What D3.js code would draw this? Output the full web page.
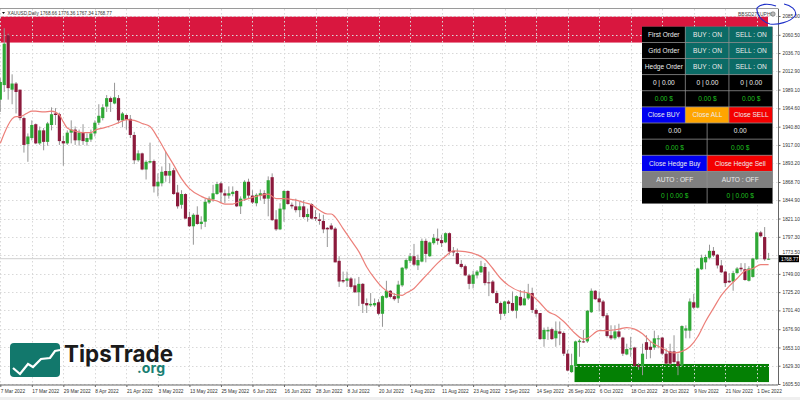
<!DOCTYPE html>
<html lang="en">
<head>
<meta charset="UTF-8">
<title>XAUUSD Daily</title>
<style>
  body, html { margin: 0; padding: 0; background: #fff; overflow: hidden; }
  svg { display: block; font-family: "Liberation Sans", Arial, sans-serif; }
</style>
</head>
<body>
<svg id="svg" width="800" height="400"></svg>
<script src="https://d3js.org/d3.v7.min.js"></script>
<script>
// candles (one entry per daily bar)
const opens = [
  1976,1995,2060,1989,1997,1989,1952,1918,1926,1944,1919,1936,1921,1943,1958,1957,1922,1919,1933,1937,
  1923,1933,1921,1924,1932,1946,1952,1967,1978,1971,1978,1949,1956,1951,1930,1897,1906,1885,1894,1896,
  1863,1867,1883,1877,1884,1855,1839,1853,1823,1811,1826,1814,1817,1842,1846,1853,1867,1854,1851,1853,
  1857,1837,1847,1869,1851,1841,1851,1854,1847,1875,1820,1807,1833,1857,1839,1837,1832,1837,1823,1840,
  1823,1820,1818,1809,1812,1808,1766,1741,1740,1743,1734,1725,1736,1711,1708,1708,1712,1697,1718,1727,
  1720,1717,1734,1756,1766,1772,1760,1765,1792,1772,1789,1795,1793,1790,1802,1779,1776,1762,1759,1747,
  1736,1747,1751,1758,1738,1739,1724,1711,1697,1713,1711,1701,1719,1708,1717,1724,1702,1698,1664,1674,
  1677,1665,1674,1672,1645,1621,1629,1660,1661,1661,1699,1727,1717,1713,1695,1669,1665,1674,1666,1644,
  1651,1653,1630,1629,1660,1654,1653,1664,1666,1645,1648,1648,1635,1630,1675,1675,1712,1705,1755,1764,
  1770,1779,1774,1760,1752,1740,1739,1750,1757,1755,1740,1745,1768,1803,1797,1768.66
];
const highs = [
  2004,2069,2062,2009,1999,1989,1954,1932,1949,1945,1941,1939,1947,1966,1965,1959,1929,1936,1949,1941,
  1937,1944,1932,1937,1949,1970,1970,1982,1980,1998,1982,1960,1957,1956,1934,1910,1907,1897,1920,1898,
  1880,1889,1908,1893,1887,1865,1858,1854,1830,1828,1837,1824,1847,1850,1865,1869,1869,1859,1863,1863,
  1858,1850,1871,1873,1858,1854,1859,1858,1876,1880,1832,1841,1858,1858,1842,1847,1843,1845,1834,1841,
  1832,1828,1826,1810,1815,1810,1772,1752,1752,1745,1743,1745,1737,1717,1724,1717,1716,1721,1740,1728,
  1724,1740,1758,1769,1776,1788,1774,1795,1795,1791,1801,1808,1800,1803,1803,1784,1782,1767,1761,1749,
  1753,1754,1766,1763,1752,1741,1727,1713,1714,1715,1726,1721,1728,1728,1736,1731,1704,1698,1679,1680,
  1679,1687,1687,1674,1650,1645,1662,1664,1676,1702,1730,1728,1726,1715,1698,1682,1682,1684,1667,1658,
  1667,1654,1633,1658,1669,1661,1675,1669,1667,1652,1658,1669,1645,1682,1682,1717,1723,1757,1774,1774,
  1787,1784,1775,1767,1753,1750,1753,1758,1763,1763,1759,1770,1804,1805,1810,1776.36
];
const lows = [
  1960,1986,1976,1970,1958,1949,1907,1895,1923,1918,1917,1910,1916,1936,1943,1917,1890,1917,1919,1917,
  1916,1917,1916,1921,1928,1943,1949,1960,1960,1970,1945,1940,1937,1926,1892,1895,1884,1872,1893,1855,
  1850,1863,1869,1867,1852,1834,1834,1821,1810,1787,1813,1807,1810,1840,1843,1852,1841,1841,1847,1850,
  1836,1827,1844,1847,1840,1837,1845,1840,1824,1818,1805,1806,1817,1839,1834,1829,1823,1821,1817,1820,
  1818,1813,1802,1784,1806,1764,1732,1737,1732,1730,1724,1707,1698,1698,1706,1706,1695,1680,1717,1717,
  1714,1711,1732,1754,1763,1759,1754,1764,1764,1771,1787,1787,1784,1789,1774,1772,1761,1756,1746,1729,
  1730,1743,1750,1734,1720,1723,1710,1689,1694,1698,1700,1691,1707,1708,1715,1698,1693,1663,1654,1663,
  1663,1654,1656,1642,1622,1620,1628,1641,1659,1659,1698,1715,1700,1692,1666,1663,1663,1665,1642,1643,
  1641,1628,1624,1617,1638,1639,1650,1652,1643,1631,1630,1632,1617,1629,1665,1665,1703,1704,1754,1755,
  1768,1771,1756,1750,1732,1737,1727,1749,1752,1740,1739,1744,1767,1797,1766,1767.34
];
const closes = [
  1999,2049,1991,1997,1986,1952,1917,1928,1943,1919,1936,1921,1945,1957,1956,1922,1919,1933,1937,1923,
  1933,1922,1926,1932,1946,1955,1966,1978,1973,1979,1949,1958,1950,1930,1897,1906,1885,1895,1896,1863,
  1869,1882,1877,1883,1853,1837,1853,1821,1811,1826,1814,1817,1843,1847,1854,1866,1855,1851,1854,1856,
  1837,1847,1869,1851,1842,1852,1854,1847,1871,1819,1807,1834,1857,1840,1837,1832,1837,1823,1827,1821,
  1821,1818,1807,1807,1807,1764,1739,1739,1743,1732,1725,1736,1710,1708,1710,1711,1697,1720,1727,1719,
  1716,1735,1757,1767,1772,1761,1767,1792,1775,1790,1796,1792,1789,1802,1778,1777,1762,1758,1747,1736,
  1748,1752,1759,1737,1737,1724,1711,1697,1713,1710,1701,1720,1708,1717,1724,1702,1697,1664,1676,1676,
  1664,1675,1671,1645,1623,1630,1661,1662,1660,1701,1727,1716,1712,1694,1668,1665,1674,1667,1645,1651,
  1652,1629,1628,1645,1650,1650,1665,1665,1645,1632,1632,1634,1629,1681,1678,1713,1705,1756,1770,1771,
  1779,1773,1760,1751,1737,1738,1750,1756,1755,1741,1756,1769,1803,1798,1768,1768.77
];

// moving average, read at the bars where the line could be seen clearly
const maBars = [
  0,1,2,3,4,5,6,7,8,9,11,13,15,16,17,19,21,23,24,26,28,30,32,34,36,38,40,42,44,46,48,51,
  53,55,57,59,61,63,65,68,70,72,75,77,79,81,83,84,85,87,89,91,93,95,97,99,102,103,105,107,109,111,113,115,118,
  121,123,125,127,129,132,134,137,139,141,143,146,148,149,152,154,157,159,161,163,165,168,171,173,175,177,179,
  181,183,185,187,189,191,193,195
];
const maValues = [
  1919,1932,1943,1951,1954,1954,1956,1959,1961,1961,1960,1961,1956,1947,1939,1935,1933,1933,1936,1939,1942,1946,
  1950,1949,1945,1941,1926,1908,1891,1873,1860,1850,
  1846,1844,1840,1840,1844,1847,1850,1853,1847,1847,1845,1842,1839,1832,1827,1827,1823,1808,1793,1778,1758,1743,
  1731,1724,1721,1724,1730,1741,1752,1763,1772,1779,1778,
  1774,1768,1756,1743,1734,1726,1724,1711,1700,1695,1687,1671,1664,1665,1675,1675,1677,1679,1677,1671,1661,1652,
  1646,1648,1654,1667,1687,1704,1721,1733,1743,1753,1756,1761,1761
];

const priceTicks = [2085.0,2060.5,2036.7,2012.9,1989.1,1964.6,1940.8,1917.0,1893.2,1868.7,1844.9,1821.1,1797.3,1773.5,1749.0,1725.2,1701.4,1676.9,1653.1,1629.3,1605.5];
const dateBars = [0,8,16,24,32,40,48,56,64,72,80,88,96,104,112,120,128,136,144,152,160,168,176,184,192];
const dateLabels = ['7 Mar 2022','17 Mar 2022','29 Mar 2022','8 Apr 2022','21 Apr 2022','3 May 2022','13 May 2022','25 May 2022','6 Jun 2022','16 Jun 2022','28 Jun 2022','8 Jul 2022','20 Jul 2022','1 Aug 2022','11 Aug 2022','23 Aug 2022','2 Sep 2022','14 Sep 2022','26 Sep 2022','6 Oct 2022','18 Oct 2022','28 Oct 2022','9 Nov 2022','21 Nov 2022','1 Dec 2022'];

const lastPrice = 1768.77;
const supplyZone = [2084.3, 2050.4];
const demandZone = [1631.6, 1608];
const demandStartBar = 146;

// control panel text
const panelRows = [
  ['First Order', 'BUY : ON', 'SELL : ON'],
  ['Grid Order', 'BUY : ON', 'SELL : ON'],
  ['Hedge Order', 'BUY : ON', 'SELL : ON'],
  ['0 | 0.00', '0 | 0.00', '0 | 0.00'],
  ['0.00 $', '0.00 $', '0.00 $'],
  ['Close BUY', 'Close ALL', 'Close SELL'],
  ['0.00', '0.00'],
  ['0.00 $', '0.00 $'],
  ['Close Hedge Buy', 'Close Hedge Sell'],
  ['AUTO : OFF', 'AUTO : OFF'],
  ['0 | 0.00 $', '0 | 0.00 $']
];
const panelFills = [
  ['#000','#0b6b66','#0b6b66'],['#000','#0b6b66','#0b6b66'],['#000','#0b6b66','#0b6b66'],
  ['#000','#000','#000'],['#000','#000','#000'],
  ['#0000f0','#ffa500','#f40000'],
  ['#000','#000'],['#000','#000'],['#0000f0','#f40000'],['#808080','#808080'],['#000','#000']
];
const panelTextColors = {4: '#1fc01f', 7: '#1fc01f', 10: '#1fc01f'};

const svg = d3.select('#svg');
const plotRight = 778, plotBottom = 385, plotTop = 9;

const x = d3.scaleLinear().domain([0, 195]).range([0.3, 768.6]);
const y = d3.scaleLinear().domain([1605.5, 2085]).range([384, 16]);

// background bits
svg.append('rect').attr('x', 0).attr('y', 397).attr('width', 800).attr('height', 3).attr('fill', '#efefef');

// zones sit under the grid
svg.append('rect')
  .attr('x', 0).attr('width', 768)
  .attr('y', y(supplyZone[0])).attr('height', y(supplyZone[1]) - y(supplyZone[0]))
  .attr('fill', '#d9173f');
svg.append('rect')
  .attr('x', x(demandStartBar) - 1).attr('width', 769 - x(demandStartBar) + 1)
  .attr('y', y(demandZone[0])).attr('height', y(demandZone[1]) - y(demandZone[0]))
  .attr('fill', '#048004');

// grid
const grid = svg.append('g').attr('stroke', '#d8d8d8').attr('stroke-width', 1).attr('stroke-dasharray', '1.5,2.5');
grid.selectAll('.h').data(priceTicks).join('line').attr('class', 'h')
  .attr('x1', 0).attr('x2', plotRight)
  .attr('y1', d => Math.round(y(d)) + 0.5).attr('y2', d => Math.round(y(d)) + 0.5);
grid.selectAll('.v').data(dateBars).join('line').attr('class', 'v')
  .attr('y1', plotTop).attr('y2', plotBottom)
  .attr('x1', d => Math.round(x(d)) + 0.5).attr('x2', d => Math.round(x(d)) + 0.5);

// current price line
svg.append('line')
  .attr('x1', 0).attr('x2', plotRight)
  .attr('y1', y(lastPrice)).attr('y2', y(lastPrice))
  .attr('stroke', '#cfcfcf').attr('stroke-width', 1);

// candles
const candles = svg.append('g').selectAll('g').data(opens).join('g');
candles.append('line')
  .attr('x1', (d, i) => x(i)).attr('x2', (d, i) => x(i))
  .attr('y1', (d, i) => y(highs[i])).attr('y2', (d, i) => y(lows[i]))
  .attr('stroke', '#969696').attr('stroke-width', 1);
candles.append('rect')
  .attr('x', (d, i) => x(i) - 1.6).attr('width', 3.2)
  .attr('y', (d, i) => y(Math.max(d, closes[i])))
  .attr('height', (d, i) => Math.max(1, Math.abs(y(d) - y(closes[i]))))
  .attr('fill', (d, i) => closes[i] >= d ? '#2fa836' : '#8c1a3c');

// moving average
const maLine = d3.line()
  .x((d, i) => x(maBars[i]))
  .y(d => y(d))
  .curve(d3.curveMonotoneX);
svg.append('path')
  .attr('d', maLine(maValues))
  .attr('fill', 'none')
  .attr('stroke', '#ec7f79')
  .attr('stroke-width', 1.2);

// frame + axes
svg.append('line').attr('x1', 0).attr('x2', plotRight + 0.5).attr('y1', plotTop - 0.5).attr('y2', plotTop - 0.5).attr('stroke', '#9a9a9a').attr('stroke-width', 1);

const yAxis = d3.axisRight(y).tickValues(priceTicks).tickFormat(d3.format('.2f')).tickSize(2).tickPadding(2);
const yg = svg.append('g').attr('transform', `translate(${plotRight + 0.5},0)`).call(yAxis);
yg.select('.domain').attr('d', `M0,${plotTop}V${plotBottom}`).attr('stroke', '#666');
yg.selectAll('text').attr('font-size', 4.8).attr('fill', '#333').attr('font-family', '"Liberation Sans", sans-serif');
yg.selectAll('line').attr('stroke', '#666');
// the price tag covers this label's lower half in the original, lift it clear
yg.selectAll('text').filter(d => d === 1773.5).attr('dy', '-0.3em');

const xAxis = d3.axisBottom(x).tickValues(dateBars).tickFormat((d, i) => dateLabels[i]).tickSize(2).tickPadding(3);
const xg = svg.append('g').attr('transform', `translate(0,${plotBottom})`).call(xAxis);
xg.select('.domain').attr('d', `M0,0H${plotRight}`).attr('stroke', '#666');
xg.selectAll('text').attr('font-size', 4.8).attr('fill', '#333').attr('text-anchor', 'start').attr('font-family', '"Liberation Sans", sans-serif');
xg.selectAll('line').attr('stroke', '#666');

// last price tag
const tag = svg.append('g').attr('transform', `translate(${plotRight + 1},${y(lastPrice)})`);
tag.append('rect').attr('x', 0).attr('y', -3.5).attr('width', 20).attr('height', 7).attr('fill', '#000');
tag.append('text').attr('x', 2).attr('y', 1.8).attr('font-size', 4.8).attr('fill', '#fff').text(d3.format('.2f')(lastPrice));

// header texts
svg.append('path').attr('d', 'M2,12L5,12L3.5,14Z').attr('fill', '#111');
svg.append('text').attr('x', 7.5).attr('y', 15).attr('font-size', 4.7).attr('fill', '#333')
  .text('XAUUSD,Daily  1768.66 1776.36 1767.34 1768.77');
svg.append('text').attr('x', 738).attr('y', 15.8).attr('font-size', 5).attr('fill', '#444').text('BBSD271UPHG');
svg.append('circle').attr('cx', 773).attr('cy', 14).attr('r', 2.2).attr('fill', '#bbb').attr('stroke', '#666').attr('stroke-width', 0.6);

// panel
const colThree = d3.scaleBand().domain([0, 1, 2]).range([642, 773]);
const colTwo = d3.scaleBand().domain([0, 1]).range([642, 773]);
const rowY = d3.scaleBand().domain(d3.range(panelRows.length)).range([26.7, 204]);

svg.append('rect').attr('x', 642).attr('y', 26.7).attr('width', 131).attr('height', 177.3).attr('fill', '#8f8f8f');

const rows = svg.append('g').selectAll('g').data(panelRows).join('g')
  .attr('transform', (d, i) => `translate(0,${rowY(i)})`);
const cells = rows.selectAll('g')
  .data((row, r) => row.map((label, c) => ({label, c, r, n: row.length})))
  .join('g')
  .attr('transform', d => `translate(${(d.n === 3 ? colThree : colTwo)(d.c)},0)`);
cells.append('rect')
  .attr('width', d => (d.n === 3 ? colThree : colTwo).bandwidth() - 0.8)
  .attr('height', rowY.bandwidth() - 0.8)
  .attr('fill', d => panelFills[d.r][d.c]);
cells.append('text')
  .attr('x', d => (d.n === 3 ? colThree : colTwo).bandwidth() / 2)
  .attr('y', rowY.bandwidth() / 2 + 2)
  .attr('text-anchor', 'middle')
  .attr('font-size', 6.6)
  .attr('fill', d => panelTextColors[d.r] || '#ececec')
  .text(d => d.label);

// hand drawn ring around the top right corner
svg.append('path')
  .attr('d', 'M776,6C768,3 760,4 757,8C756,14 762,22 770,24C778,25 790,22 795,16C798,10 790,5 784,4')
  .attr('fill', 'none').attr('stroke', '#1d2fc8').attr('stroke-width', 1.1);

// logo
const logo = svg.append('g');
logo.append('rect').attr('x', 10).attr('y', 343).attr('width', 50).attr('height', 34).attr('rx', 4).attr('fill', '#12786c');
logo.append('path')
  .attr('d', 'M13,368L20,374L28,364L33,367L41,359L50,358L55,351L60,350')
  .attr('fill', 'none').attr('stroke', '#fff').attr('stroke-width', 2.2);
logo.append('text').attr('x', 64).attr('y', 362).attr('font-family', 'Inter, sans-serif').attr('font-weight', 700)
  .attr('font-size', 23).attr('fill', '#1b1b1b').attr('textLength', 109).attr('lengthAdjust', 'spacingAndGlyphs').text('TipsTrade');
logo.append('text').attr('x', 137).attr('y', 373).attr('font-family', 'Inter, sans-serif').attr('font-weight', 700)
  .attr('font-size', 14).attr('fill', '#1a7f73').attr('textLength', 28).text('.org');
</script>
</body>
</html>
